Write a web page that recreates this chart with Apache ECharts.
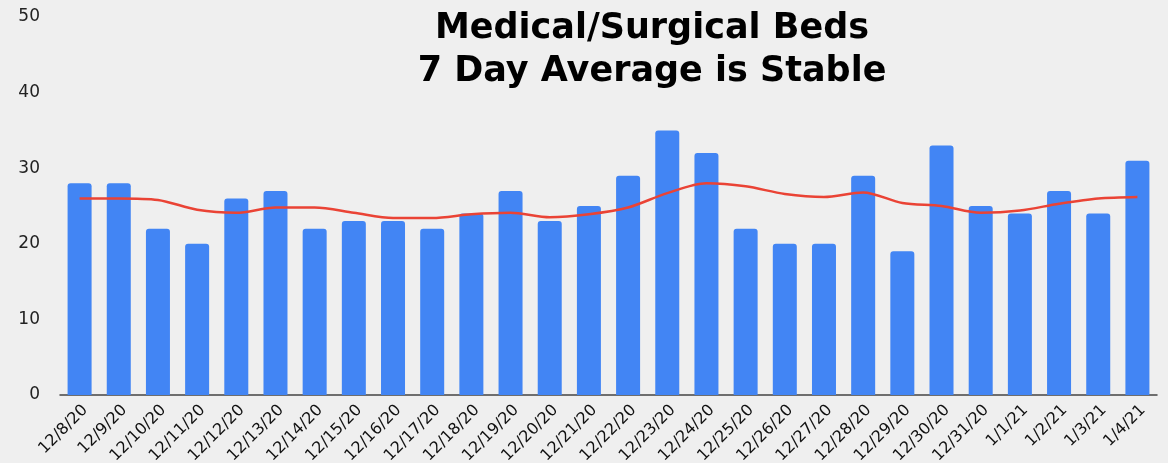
<!DOCTYPE html>
<html>
<head>
<meta charset="utf-8">
<script src="https://cdn.jsdelivr.net/npm/echarts@6/dist/echarts.min.js"></script>
<style>
  html, body { margin: 0; padding: 0; background: #efefef; }
  #chart { width: 1168px; height: 463px; }
</style>
</head>
<body>
<div id="chart"></div>
<script>
// chart data
const dates = ['12/8/20', '12/9/20', '12/10/20', '12/11/20', '12/12/20', '12/13/20', '12/14/20',
  '12/15/20', '12/16/20', '12/17/20', '12/18/20', '12/19/20', '12/20/20', '12/21/20', '12/22/20',
  '12/23/20', '12/24/20', '12/25/20', '12/26/20', '12/27/20', '12/28/20', '12/29/20', '12/30/20',
  '12/31/20', '1/1/21', '1/2/21', '1/3/21', '1/4/21'];
const bedCounts = [28, 28, 22, 20, 26, 27, 22, 23, 23, 22, 24, 27, 23, 25, 29,
  35, 32, 22, 20, 20, 29, 19, 33, 25, 24, 27, 24, 31];
const sevenDayAvg = [26.0, 26.0, 25.8, 24.5, 24.1, 24.8, 24.8, 24.1, 23.4, 23.4, 23.9, 24.1, 23.5, 23.9, 24.8,
  26.7, 28.0, 27.6, 26.6, 26.2, 26.8, 25.4, 25.0, 24.1, 24.4, 25.3, 26.0, 26.2];
const yTicks = [0, 10, 20, 30, 40, 50];

document.addEventListener('DOMContentLoaded', function() {
  const chart = echarts.init(document.getElementById('chart'));
  const option = {
    animation: false,
    backgroundColor: '#efefef',
    title: {
      text: 'Medical/Surgical Beds\n7 Day Average is Stable',
      left: 647,
      top: 2,
      textAlign: 'center',
      textStyle: {
        fontFamily: 'DejaVu Sans',
        fontWeight: 'bold',
        fontSize: 35,
        lineHeight: 43,
        color: '#000'
      }
    },
    grid: { left: 60, right: 11, top: 17, bottom: 68, outerBoundsMode: 'none' },
    xAxis: {
      type: 'category',
      data: dates,
      axisLine: { lineStyle: { color: '#444', width: 1.5 } },
      axisTick: { show: false },
      axisLabel: {
        rotate: 45,
        interval: 0,
        margin: 7,
        verticalAlign: 'top',
        fontFamily: 'DejaVu Sans',
        fontSize: 16,
        color: '#111'
      }
    },
    yAxis: {
      type: 'value',
      min: yTicks[0],
      max: yTicks[yTicks.length - 1],
      interval: 10,
      splitLine: { show: false },
      axisLine: { show: false },
      axisTick: { show: false },
      axisLabel: {
        margin: 20,
        fontFamily: 'DejaVu Sans',
        fontSize: 17,
        color: '#222'
      }
    },
    series: [
      {
        name: 'Beds',
        type: 'bar',
        data: bedCounts,
        barWidth: 24,
        itemStyle: { color: '#4285f4', borderRadius: [3, 3, 0, 0] }
      },
      {
        name: '7 Day Average',
        type: 'line',
        data: sevenDayAvg,
        smooth: 0.3,
        showSymbol: false,
        lineStyle: { color: '#ea4335', width: 2.5 }
      }
    ]
  };
  chart.setOption(option);
});
</script>
</body>
</html>
